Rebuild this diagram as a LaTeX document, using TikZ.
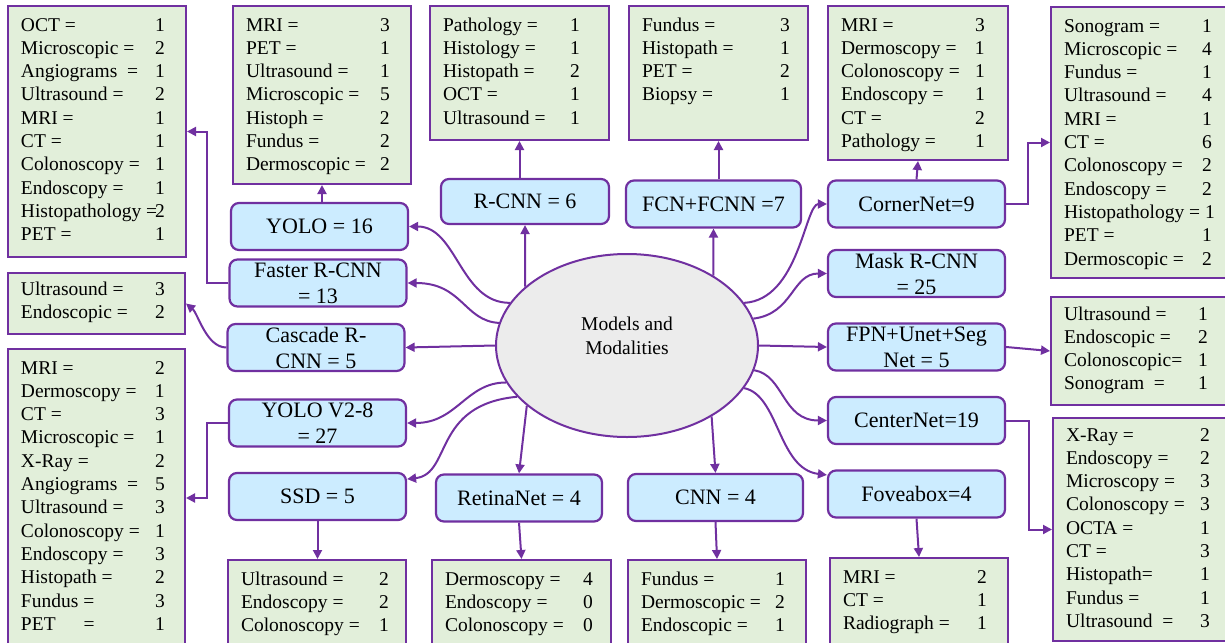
\documentclass[tikz,border=0pt]{standalone}
\usepackage{fontspec}
\setmainfont{Liberation Serif}
\usetikzlibrary{shapes.geometric,arrows.meta}

\definecolor{purp}{RGB}{112,48,160}
\definecolor{modgreen}{RGB}{226,239,218}
\definecolor{modblue}{RGB}{204,236,255}
\definecolor{modgray}{RGB}{236,236,236}

\newlength{\numcol}
\setlength{\numcol}{134pt}
% one line of a modality list: name, then count in its column
\newcommand{\mline}[2]{\makebox[\numcol][l]{\strut #1}#2\par}
% list box: height, width, lines
\newcommand{\mlist}[3]{\parbox[t][#1][t]{#2}{\leftskip=13pt\vspace*{8.7pt}#3}}

\tikzset{
	modelbox/.style={draw=purp, fill=modblue, line width=2.2pt, rounded corners=8pt,
		minimum width=177pt, minimum height=47pt, inner sep=2pt, align=center,
		font=\fontsize{22}{26}\selectfont},
	modalbox/.style={draw=purp, fill=modgreen, line width=2pt, inner sep=0pt,
		anchor=north west, font=\fontsize{19.5}{23.3}\selectfont},
	link/.style={draw=purp, line width=2pt, -{Triangle[length=9pt,width=9pt]}},
}

\begin{document}
\begin{tikzpicture}[x=1pt, y=-1pt, node distance=73.5pt]
	\useasboundingbox (0,0) rectangle (1225,642);

	% Centre
	\node (models)	[ellipse, draw=purp, fill=modgray, line width=2pt,
		minimum width=262pt, minimum height=183pt,
		label={[align=center, font=\fontsize{19.5}{24}\selectfont, yshift=10pt]center:Models and\\Modalities}]
		at (627,345.5) {};

	% Models
	\node (yolo)		[modelbox] at (319.5,226.5)	{YOLO = 16};
	\node (faster)	[modelbox] at (318,283)		{Faster R-CNN\\= 13};
	\node (cascade)	[modelbox] at (316,347.5)		{Cascade R-\\CNN = 5};
	\node (yolov)		[modelbox] at (317.5,423)		{YOLO V2-8\\= 27};
	\node (ssd)			[below of=yolov, modelbox]		{SSD = 5};
	\node (rcnn)		[modelbox, minimum width=168pt, minimum height=45pt] at (525,201.5) {R-CNN = 6};
	\node (fcn)			[modelbox, minimum width=175pt] at (713.5,204)	{FCN+FCNN =7};
	\node (corner)	[modelbox] at (916.5,204)		{CornerNet=9};
	\node (mask)		[below of=corner, modelbox, yshift=4pt]	{Mask R-CNN\\= 25};
	\node (fpn)			[below of=mask, modelbox]		{FPN+Unet+Seg\\Net = 5};
	\node (center)	[below of=fpn, modelbox]		{CenterNet=19};
	\node (fove)		[below of=center, modelbox]	{Foveabox=4};
	\node (retina)	[modelbox, minimum width=166pt] at (519,498)	{RetinaNet = 4};
	\node (cnn)			[modelbox, minimum width=175pt] at (715.5,497.5)	{CNN = 4};

	% Modalities
	\node (octbox)	[modalbox] at (7,5) {\mlist{251pt}{178pt}{%
		\mline{OCT =}{1}\mline{Microscopic =}{2}\mline{Angiograms\ \ =}{1}
		\mline{Ultrasound =}{2}\mline{MRI =}{1}\mline{CT =}{1}
		\mline{Colonoscopy =}{1}\mline{Endoscopy =}{1}
		\mline{Histopathology =}{2}\mline{PET =}{1}}};
	\node (yolobox)	[modalbox] at (232,5) {\mlist{178pt}{178pt}{%
		\mline{MRI =}{3}\mline{PET =}{1}\mline{Ultrasound =}{1}
		\mline{Microscopic =}{5}\mline{Histoph =}{2}\mline{Fundus =}{2}
		\mline{Dermoscopic =}{2}}};
	\node (rcnnbox)	[modalbox] at (429,5) {\mlist{134pt}{179pt}{\setlength{\numcol}{127pt}%
		\mline{Pathology =}{1}\mline{Histology =}{1}\mline{Histopath =}{2}
		\mline{OCT =}{1}\mline{Ultrasound =}{1}}};
	\node (fcnbox)	[modalbox] at (628,5) {\mlist{134pt}{179pt}{\setlength{\numcol}{138pt}%
		\mline{Fundus =}{3}\mline{Histopath =}{1}\mline{PET =}{2}
		\mline{Biopsy =}{1}}};
	\node (cornerbox) [modalbox] at (827,5) {\mlist{154pt}{180pt}{%
		\mline{MRI =}{3}\mline{Dermoscopy =}{1}\mline{Colonoscopy =}{1}
		\mline{Endoscopy =}{1}\mline{CT =}{2}\mline{Pathology =}{1}}};
	\node (sonobox)	[modalbox] at (1050,6) {\mlist{271pt}{177pt}{\setlength{\numcol}{138pt}%
		\mline{Sonogram =}{1}\mline{Microscopic =}{4}\mline{Fundus =}{1}
		\mline{Ultrasound =}{4}\mline{MRI =}{1}\mline{CT =}{6}
		\mline{Colonoscopy =}{2}\mline{Endoscopy =}{2}
		\mline{Histopathology = 1}{}\mline{PET =}{1}\mline{Dermoscopic =}{2}}};
	\node (cascbox)	[modalbox] at (7,272) {\mlist{61pt}{177pt}{\vspace*{-3pt}%
		\mline{Ultrasound =}{3}\mline{Endoscopic =}{2}}};
	\node (yolovbox) [modalbox] at (7,348) {\mlist{298pt}{177pt}{%
		\mline{MRI =}{2}\mline{Dermoscopy =}{1}\mline{CT =}{3}
		\mline{Microscopic =}{1}\mline{X-Ray =}{2}\mline{Angiograms\ \ =}{5}
		\mline{Ultrasound =}{3}\mline{Colonoscopy =}{1}\mline{Endoscopy =}{3}
		\mline{Histopath =}{2}\mline{Fundus =}{3}\mline{PET\hspace{28pt}=}{1}}};
	\node (ssdbox)	[modalbox] at (227,559) {\mlist{90pt}{178pt}{\setlength{\numcol}{138pt}%
		\mline{Ultrasound =}{2}\mline{Endoscopy =}{2}\mline{Colonoscopy =}{1}}};
	\node (retinabox) [modalbox] at (431,559) {\mlist{90pt}{179pt}{\setlength{\numcol}{138pt}%
		\mline{Dermoscopy =}{4}\mline{Endoscopy =}{0}\mline{Colonoscopy =}{0}}};
	\node (cnnbox)	[modalbox] at (627,559) {\mlist{90pt}{178pt}{%
		\mline{Fundus =}{1}\mline{Dermoscopic =}{2}\mline{Endoscopic =}{1}}};
	\node (fovebox)	[modalbox] at (829,557) {\mlist{92pt}{178pt}{%
		\mline{MRI =}{2}\mline{CT =}{1}\mline{Radiograph =}{1}}};
	\node (centerbox) [modalbox] at (1052,417) {\mlist{223pt}{175pt}{\vspace*{-2pt}%
		\mline{X-Ray =}{2}\mline{Endoscopy =}{2}\mline{Microscopy =}{3}
		\mline{Colonoscopy =}{3}\mline{OCTA =}{1}\mline{CT =}{3}
		\mline{Histopath=}{1}\mline{Fundus =}{1}\mline{Ultrasound\ \ =}{3}}};
	\node (fpnbox)	[modalbox] at (1050,296) {\mlist{108pt}{177pt}{\vspace*{-2pt}%
		\mline{Ultrasound =}{1}\mline{Endoscopic =}{2}\mline{Colonoscopic=}{1}
		\mline{Sonogram\ \ =}{1}}};

	% Centre to models
	\draw[link]	(models.150) -- (rcnn.south);
	\draw[link]	(models.39) -- (fcn.south);
	\draw[link]	(models.160) .. controls +(-50,0) and +(48,0) .. (yolo.east);
	\draw[link]	(models.170) .. controls +(-35,-2) and +(55,0) .. (faster.east);
	\draw[link]	(models.west) -- (cascade.east);
	\draw[link]	(models.197) .. controls +(-40,0) and +(50,0) .. (yolov.east);
	\draw[link]	(models.205) .. controls +(-85,8) and +(45,-5) .. (ssd.11);
	\draw[link]	(models.211) -- (retina.north);
	\draw[link]	(models.-40) -- (cnn.north);
	\draw[link]	(models.20) .. controls +(55,-3) and +(-22,0) .. (corner.west);
	\draw[link]	(models.12) .. controls +(40,-5) and +(-35,0) .. (mask.west);
	\draw[link]	(models.east) -- (fpn.west);
	\draw[link]	(models.-11) .. controls +(30,5) and +(-45,0) .. (center.west);
	\draw[link]	(models.-20) .. controls +(35,7) and +(-49,-6) .. (fove.168);

	% Models to modalities
	\draw[link]	(yolobox.south |- yolo.north) -- (yolobox.south);
	\draw[link]	(rcnnbox.south |- rcnn.north) -- (rcnnbox.south);
	\draw[link]	(fcnbox.south |- fcn.north) -- (fcnbox.south);
	\draw[link]	(corner.north) -- (cornerbox.south);
	\draw[link]	(faster.west) -- ++(-21,0) |- (octbox.east);
	\draw[link]	(cascade.west) .. controls +(-20,0) and +(12,10) .. (cascbox.east);
	\draw[link]	(yolov.west) -- ++(-21,0) |- (yolovbox.east);
	\draw[link]	(corner.east) -- ++(22,0) |- (sonobox.west);
	\draw[link]	(fpn.east) -- (fpnbox.west);
	\draw[link]	(center.east) -- ++(23,0) |- (centerbox.west);
	\draw[link]	(ssd.south) -- (ssdbox.north -| ssd.south);
	\draw[link]	(retina.south) -- (retinabox.north);
	\draw[link]	(cnn.south) -- (cnnbox.north);
	\draw[link]	(fove.south) -- (fovebox.north);
\end{tikzpicture}
\end{document}
